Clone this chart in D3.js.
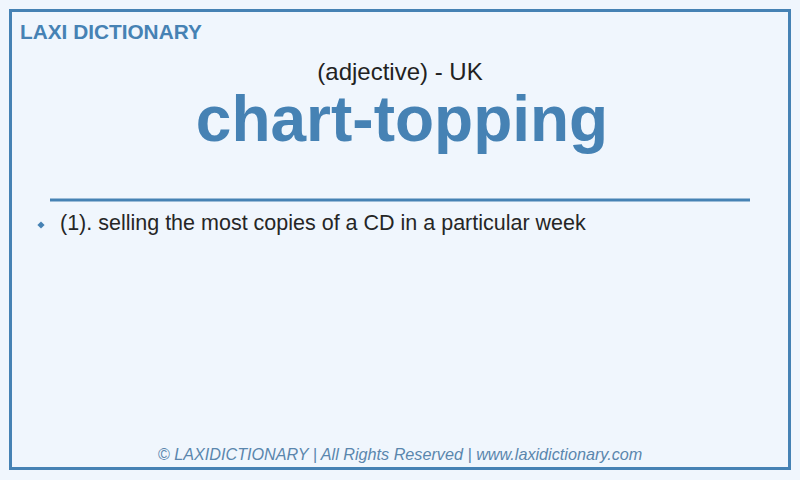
<!DOCTYPE html>
<html>
<head>
<meta charset="utf-8">
<script src="https://cdn.jsdelivr.net/npm/d3@7"></script>
<style>
  body { margin: 0; background: #f0f6fd; }
  text { font-family: "Liberation Sans", Arial, sans-serif; }
</style>
</head>
<body>
<div id="card"></div>
<script>
// card content
var brand = ["LAXI DICTIONARY"];
var wordClass = ["(adjective) - UK"];
var headword = ["chart-topping"];
var definitions = ["(1). selling the most copies of a CD in a particular week"];
var footer = ["© LAXIDICTIONARY | All Rights Reserved | www.laxidictionary.com"];

var width = 800, height = 480;
var blue = "#4682b4";

var svg = d3.select("#card").append("svg")
  .attr("width", width)
  .attr("height", height);

svg.append("rect")
  .attr("width", width).attr("height", height)
  .attr("fill", "#f0f6fd");

// outer frame
svg.append("rect")
  .attr("x", 10.5).attr("y", 10.5)
  .attr("width", 779).attr("height", 458)
  .attr("fill", "none")
  .attr("stroke", blue)
  .attr("stroke-width", 3);

svg.selectAll(".brand").data(brand).enter().append("text")
  .attr("class", "brand")
  .attr("x", 20).attr("y", 39)
  .attr("font-size", 20.8).attr("font-weight", "bold")
  .attr("fill", blue)
  .text(function (d) { return d; });

svg.selectAll(".wclass").data(wordClass).enter().append("text")
  .attr("class", "wclass")
  .attr("x", 400).attr("y", 80)
  .attr("text-anchor", "middle")
  .attr("font-size", 24)
  .attr("fill", "#222")
  .text(function (d) { return d; });

svg.selectAll(".head").data(headword).enter().append("text")
  .attr("class", "head")
  .attr("x", 402).attr("y", 141)
  .attr("text-anchor", "middle")
  .attr("font-size", 64).attr("font-weight", "bold")
  .attr("fill", blue)
  .text(function (d) { return d; });

// divider
svg.append("line")
  .attr("x1", 50).attr("x2", 750)
  .attr("y1", 200).attr("y2", 200)
  .attr("stroke", blue)
  .attr("stroke-width", 3);

// definition list
var y = d3.scaleBand()
  .domain(d3.range(definitions.length))
  .range([210, 210 + 28 * definitions.length]);

var items = svg.selectAll(".def").data(definitions).enter().append("g")
  .attr("class", "def")
  .attr("transform", function (d, i) { return "translate(0," + (y(i) + y.bandwidth() / 2) + ")"; });

items.append("path")
  .attr("d", d3.symbol().type(d3.symbolSquare).size(26))
  .attr("transform", "translate(41,1) rotate(45)")
  .attr("fill", blue);

items.append("text")
  .attr("x", 60).attr("y", 6)
  .attr("font-size", 21.5)
  .attr("fill", "#262626")
  .text(function (d) { return d; });

svg.selectAll(".foot").data(footer).enter().append("text")
  .attr("class", "foot")
  .attr("x", 400).attr("y", 460)
  .attr("text-anchor", "middle")
  .attr("font-size", 16.2).attr("font-style", "italic")
  .attr("fill", "#5a86ad")
  .text(function (d) { return d; });
</script>
</body>
</html>
